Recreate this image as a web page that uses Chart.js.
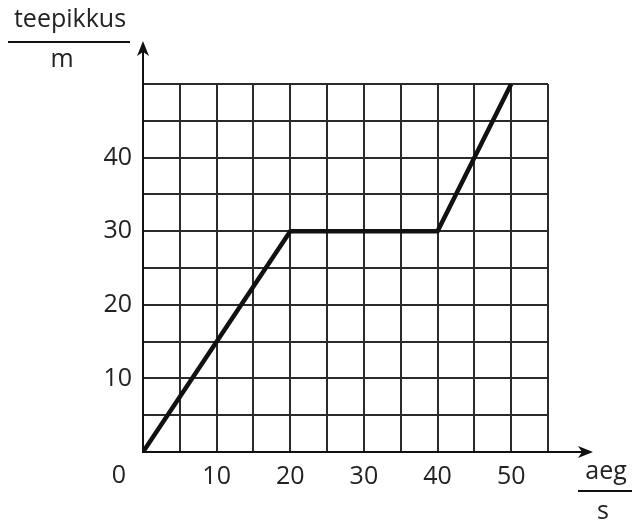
<!DOCTYPE html>
<html>
<head>
<meta charset="utf-8">
<script src="https://cdn.jsdelivr.net/npm/chart.js@4"></script>
<style>
  html, body { margin: 0; padding: 0; background: #fff; }
  #wrap { width: 632px; height: 523px; }
</style>
</head>
<body>
<div id="wrap"><canvas id="distChart" width="632" height="523"></canvas></div>
<script>
// distance vs time
const timeValues = [0, 20, 40, 50];
const distanceValues = [0, 30, 30, 50];
const xLabels = [10, 20, 30, 40, 50];
const yLabels = [10, 20, 30, 40];

const textColor = '#222';
const fontFamily = '"Open Sans", "DejaVu Sans", sans-serif';

// arrows on the axes, origin "0", and the fraction-style axis titles
const decorations = {
  id: 'decorations',
  afterDraw(chart) {
    const ctx = chart.ctx;
    const xs = chart.scales.x;
    const ys = chart.scales.y;
    const x0 = xs.getPixelForValue(0);
    const y0 = ys.getPixelForValue(0);

    ctx.save();
    ctx.strokeStyle = '#111';
    ctx.fillStyle = '#111';
    ctx.lineWidth = 2;

    // y axis extension + arrow
    const yTip = ys.top - 43;
    ctx.beginPath();
    ctx.moveTo(x0, y0);
    ctx.lineTo(x0, yTip + 6);
    ctx.stroke();
    ctx.beginPath();
    ctx.moveTo(x0, yTip);
    ctx.lineTo(x0 - 6, yTip + 15);
    ctx.lineTo(x0, yTip + 11);
    ctx.lineTo(x0 + 6, yTip + 15);
    ctx.closePath();
    ctx.fill();

    // x axis extension + arrow
    const xTip = xs.right + 45;
    ctx.beginPath();
    ctx.moveTo(x0, y0);
    ctx.lineTo(xTip - 6, y0);
    ctx.stroke();
    ctx.beginPath();
    ctx.moveTo(xTip, y0);
    ctx.lineTo(xTip - 15, y0 - 6);
    ctx.lineTo(xTip - 11, y0);
    ctx.lineTo(xTip - 15, y0 + 6);
    ctx.closePath();
    ctx.fill();

    ctx.fillStyle = textColor;
    ctx.font = '25px ' + fontFamily;
    ctx.textAlign = 'center';
    ctx.textBaseline = 'middle';

    // shared origin label
    ctx.fillText('0', x0 - 24, y0 + 24);

    // y title: teepikkus / m
    ctx.fillText('teepikkus', 70, 20);
    ctx.fillText('m', 62, 60);
    ctx.beginPath();
    ctx.moveTo(8, 42);
    ctx.lineTo(130, 42);
    ctx.stroke();

    // x title: aeg / s
    ctx.fillText('aeg', 606, 472);
    ctx.fillText('s', 603, 512);
    ctx.beginPath();
    ctx.moveTo(578, 491);
    ctx.lineTo(632, 491);
    ctx.stroke();

    ctx.restore();
  }
};

const points = timeValues.map((t, i) => ({ x: t, y: distanceValues[i] }));

const ctx = document.getElementById('distChart').getContext('2d');
new Chart(ctx, {
  type: 'line',
  data: {
    datasets: [{
      label: 'teepikkus',
      data: points,
      borderColor: '#111',
      borderWidth: 4.5,
      pointRadius: 0,
      tension: 0,
      fill: false
    }]
  },
  options: {
    responsive: false,
    animation: false,
    layout: { padding: { left: 93, right: 84, top: 84, bottom: 31 } },
    plugins: {
      legend: { display: false },
      tooltip: { enabled: false }
    },
    scales: {
      x: {
        type: 'linear',
        min: 0,
        max: 55,
        afterFit(scale) { scale.height = 40; },
        ticks: {
          stepSize: 5,
          autoSkip: false,
          maxRotation: 0,
          padding: 10,
          color: textColor,
          font: { family: fontFamily, size: 25 },
          callback: v => xLabels.includes(v) ? String(v) : ''
        },
        grid: { color: '#2b2b2b', lineWidth: 2, drawTicks: false },
        border: { color: '#111', width: 2 }
      },
      y: {
        type: 'linear',
        min: 0,
        max: 50,
        afterFit(scale) { scale.width = 50; },
        ticks: {
          stepSize: 5,
          autoSkip: false,
          padding: 11,
          color: textColor,
          font: { family: fontFamily, size: 25 },
          callback: v => yLabels.includes(v) ? String(v) : ''
        },
        grid: { color: '#2b2b2b', lineWidth: 2, drawTicks: false },
        border: { color: '#111', width: 2 }
      }
    }
  },
  plugins: [decorations]
});
</script>
</body>
</html>
